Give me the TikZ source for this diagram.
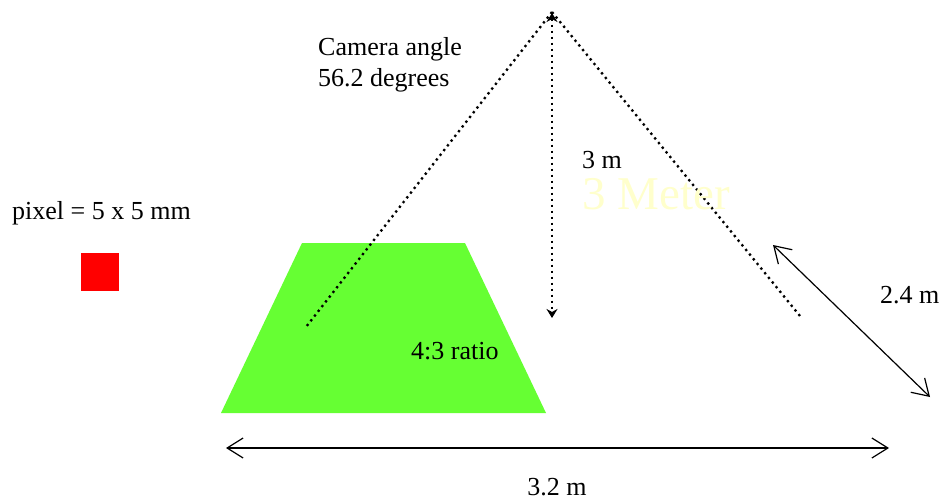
\documentclass[tikz,border=0pt]{standalone}
\usepackage{fontspec}
\setmainfont{Liberation Serif}
\usetikzlibrary{arrows.meta}
\definecolor{grass}{HTML}{66FF33}
\definecolor{paleyellow}{HTML}{FFFFCC}
\tikzset{
  txt/.style={inner sep=0pt, font=\fontsize{26}{30}\selectfont},
  dotline/.style={line width=2.3pt, dash pattern=on 2.3pt off 3.7pt},
  dimarrow/.style={line width=1.2pt, {Straight Barb[length=16pt,width=20pt,line width=1.2pt]}-{Straight Barb[length=16pt,width=20pt,line width=1.2pt]}},
}
\begin{document}
\begin{tikzpicture}[x=1pt,y=-1pt]
\useasboundingbox (0,0) rectangle (942,500);
% green trapezoid
\fill[grass] (302,243) -- (465,243) -- (546,413) -- (221,413) -- cycle;
% pixel square
\fill[red] (81,253) rectangle (119,291);
% camera lines
\coordinate (apex) at (552,12);
\coordinate (leftend) at (306,327);
\coordinate (rightend) at (800,316);
\coordinate (vbottom) at (552,318);
\draw[dotline] (apex) -- (leftend);
\draw[dotline] (apex) -- (rightend);
\draw[dotline, {Stealth[length=9pt,width=11pt]}-{Stealth[length=9pt,width=11pt]}] (552,13) -- (vbottom);
% dimension arrows
\coordinate (hl) at (226,448);
\coordinate (hr) at (889,448);
\draw[dimarrow] (hl) -- (hr);
\coordinate (dl) at (773,245);
\coordinate (dr) at (930,397);
\draw[dimarrow] (dl) -- (dr);
% texts
\node[txt, text=paleyellow, font=\fontsize{47}{52}\selectfont, anchor=base west] (meter) at (582,209) {3 Meter};
\node[txt, anchor=base west] (threem) at (582,168) {3 m};
\node[txt, anchor=base west] (cam1) at (318,56) {Camera angle};
\node[txt, anchor=base west] (cam2) at (318,87) {56.2 degrees};
\node[txt, anchor=base west] (pix) at (12,219) {pixel = 5 x 5 mm};
\node[txt, anchor=base west] (ratio) at (411,359) {4:3 ratio};
\node[txt, anchor=base west] (twofour) at (880,303) {2.4 m};
\node[txt, anchor=base] (threetwo) at (557,495) {3.2 m};
\end{tikzpicture}
\end{document}
